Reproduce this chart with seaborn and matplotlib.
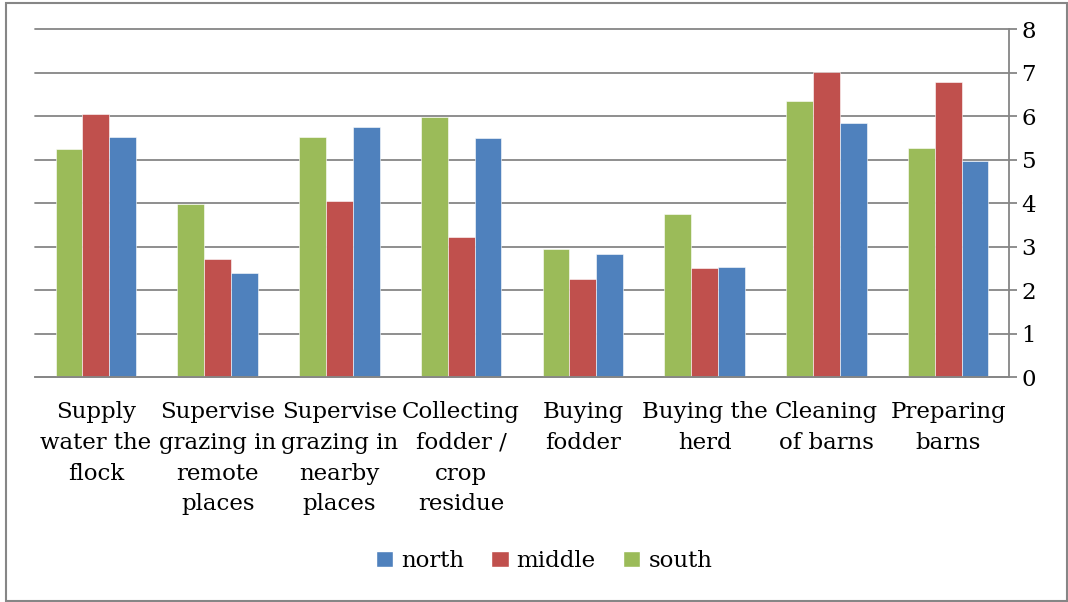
import numpy as np
import pandas as pd
import seaborn as sns
import matplotlib.pyplot as plt
from matplotlib.patches import Rectangle, Patch

# chart data
activities = ['Supply\nwater the\nflock', 'Supervise\ngrazing in\nremote\nplaces',
              'Supervise\ngrazing in\nnearby\nplaces', 'Collecting\nfodder /\ncrop\nresidue',
              'Buying\nfodder', 'Buying the\nherd', 'Cleaning\nof barns', 'Preparing\nbarns']
south = [5.25, 3.99, 5.53, 5.99, 2.94, 3.75, 6.35, 5.27]
middle = [6.05, 2.73, 4.05, 3.23, 2.26, 2.51, 7.02, 6.78]
north = [5.52, 2.39, 5.75, 5.50, 2.83, 2.53, 5.85, 4.97]
regions = ['south', 'middle', 'north']
colors = {'north': '#4F81BD', 'middle': '#C0504D', 'south': '#9BBB59'}

df = pd.DataFrame({'activity': activities * 3,
                   'region': ['south'] * 8 + ['middle'] * 8 + ['north'] * 8,
                   'value': south + middle + north})

sns.set_style('white')
plt.rcParams['font.family'] = ['DejaVu Serif']
plt.rcParams['text.color'] = 'black'
plt.rcParams['xtick.labelcolor'] = 'black'
plt.rcParams['ytick.labelcolor'] = 'black'
fs = 16.5

fig = plt.figure(figsize=(10.68, 6.02), dpi=100)
ax = fig.add_axes([35 / 1068, 1 - 377.3 / 602, 974 / 1068, 348 / 602])

sns.barplot(data=df, x='activity', y='value', hue='region', hue_order=regions,
            palette=colors, width=0.66, saturation=1, gap=0, legend=False,
            edgecolor='white', linewidth=0.4, ax=ax)

grid_c = '#868686'
ax.set_xlim(-0.5, 7.5)
ax.set_ylim(0, 8)
ax.set_yticks(range(0, 9))
ax.yaxis.tick_right()
ax.yaxis.grid(True, color=grid_c, linewidth=1.3)
for gl in ax.get_ygridlines():
    gl.set_clip_on(False)
ax.set_axisbelow(True)
ax.set_xlabel('')
ax.set_ylabel('')
for s in ['top', 'left']:
    ax.spines[s].set_visible(False)
for s in ['right', 'bottom']:
    ax.spines[s].set_color(grid_c)
    ax.spines[s].set_linewidth(1.3)

ax.set_xticks(np.arange(-0.5, 8, 1), minor=True)
ax.tick_params(axis='x', which='major', length=0, pad=17, labelsize=fs)
ax.tick_params(axis='x', which='minor', length=6, width=1.3, color=grid_c, direction='out')
ax.tick_params(axis='y', length=6, width=1.3, color=grid_c, direction='out',
               labelsize=fs, pad=3)
for t in ax.get_xticklabels():
    t.set_linespacing(1.52)

handles = [Patch(facecolor=colors[r], label=r) for r in ['north', 'middle', 'south']]
fig.legend(handles=handles, loc='center', bbox_to_anchor=(544 / 1068, 1 - 561 / 602),
           ncol=3, frameon=False, fontsize=fs, handlelength=0.75, handleheight=0.75,
           handletextpad=0.35, columnspacing=1.2)

fig.add_artist(Rectangle((6 / 1068, 1 / 602), 1061 / 1068, 598 / 602,
                         transform=fig.transFigure, fill=False,
                         edgecolor=grid_c, linewidth=1.5))

fig.savefig('out.png', dpi=100)
